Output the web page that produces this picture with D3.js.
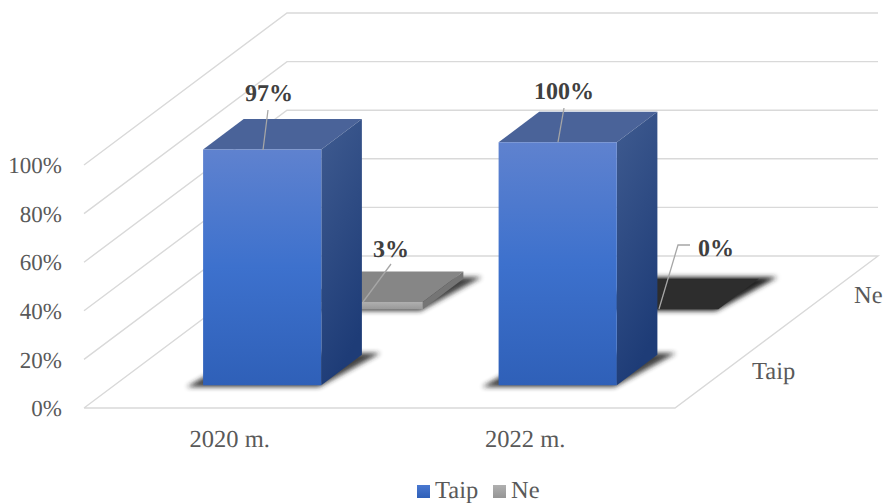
<!DOCTYPE html>
<html><head><meta charset="utf-8">
<script src="https://cdnjs.cloudflare.com/ajax/libs/d3/7.8.5/d3.min.js"></script>
<style>html,body{margin:0;padding:0;background:#fff}svg{display:block}text{font-family:"Liberation Serif",serif;text-rendering:geometricPrecision}</style>
</head><body><div id="c"></div>
<script>
const categories = ["2020 m.", "2022 m."];
const seriesNames = ["Taip", "Ne"];
const taipValues = [97, 100];
const neValues = [3, 0];
const valueTicks = [0, 20, 40, 60, 80, 100];
const dataLabels = {Taip: ["97%", "100%"], Ne: ["3%", "0%"]};

const W = 883, H = 503;
const svg = d3.select("#c").append("svg").attr("width", W).attr("height", H);
const defs = svg.append("defs");
function grad(id, stops, x2 = 0, y2 = 1) {
  const g = defs.append("linearGradient").attr("id", id).attr("x1", 0).attr("y1", 0).attr("x2", x2).attr("y2", y2);
  stops.forEach(([o, c]) => g.append("stop").attr("offset", o).attr("stop-color", c));
}
grad("blueFront", [[0, "#5f82cf"], [.5, "#3d71cd"], [1, "#2f60b8"]]);
grad("blueSide", [[0, "#3f5b90"], [1, "#1e3c77"]], .3, 1);
grad("greyFront", [[0, "#b0b0b0"], [1, "#999999"]]);
grad("legBlue", [[0, "#4a78d0"], [1, "#2f60b8"]]);
grad("legGrey", [[0, "#b0b0b0"], [1, "#959595"]]);
defs.append("filter").attr("id", "blur").attr("x", "-30%").attr("y", "-50%").attr("width", "160%").attr("height", "200%")
  .append("feGaussianBlur").attr("stdDeviation", 2.5);

// Projection: the floor runs along x, depth skews up and to the right
const depthDX = 203, depthDY = 152;
const x = d3.scaleBand().domain(categories).range([84, 675]).paddingInner(.6).paddingOuter(.3);
const z = d3.scaleBand().domain(seriesNames).range([0, 1]).paddingInner(.6).paddingOuter(.3);
const y = d3.scaleLinear().domain([0, 100]).range([408, 165]);
const P = (px, v, d) => [px + d * depthDX, y(v) - d * depthDY];
const poly = pts => pts.map(p => p.join(",")).join(" ");

// Grid
const grid = svg.append("g").attr("fill", "none").attr("stroke", "#d9d9d9").attr("stroke-width", 1.4);
valueTicks.forEach(t => {
  grid.append("polyline").attr("points", poly(
    t === 0 ? [P(84, t, 0), P(675, t, 0), P(675, t, 1), P(84, t, 1), P(84, t, 0)]
            : [P(84, t, 0), P(84, t, 1), P(675, t, 1)]));
});

// Axis text
const tick = svg.append("g").attr("font-size", 23).attr("fill", "#595959");
tick.selectAll("text").data(valueTicks).join("text")
  .attr("x", 62).attr("y", d => y(d)).attr("dy", ".36em").attr("text-anchor", "end").text(d => d + "%");
svg.append("g").attr("font-size", 24.5).attr("fill", "#595959").selectAll("text").data(categories).join("text")
  .attr("x", d => x(d) + x.bandwidth() / 2 - 2).attr("y", 447).attr("text-anchor", "middle").text(d => d);
const depthLabelPos = {Taip: [752, 379], Ne: [854, 303]};
svg.append("g").attr("font-size", 24.5).attr("fill", "#595959").selectAll("text").data(seriesNames).join("text")
  .attr("x", d => depthLabelPos[d][0]).attr("y", d => depthLabelPos[d][1]).text(d => d);

// Bars
function bar(cat, s, v) {
  const x0 = x(cat), x1 = x0 + x.bandwidth(), z0 = z(s), z1 = z0 + z.bandwidth();
  const g = svg.append("g");
  const blue = s === "Taip";
  g.append("polygon").attr("filter", "url(#blur)").attr("fill", "#222").attr("opacity", v === 0 ? 1 : .85)
    .attr("points", poly([P(x0 - 14, 0, z0 - .012), P(x1, 0, z0 - .012), P(x1 + 16, 0, z1 + .012), P(x0, 0, z1 + .012)]));
  g.append("polygon").attr("fill", blue ? "#4a6399" : (v === 0 ? "#2d2d2d" : "#868686"))
    .attr("points", poly([P(x0, v, z0), P(x1, v, z0), P(x1, v, z1), P(x0, v, z1)]));
  if (v > 0) {
    g.append("polygon").attr("fill", blue ? "url(#blueSide)" : "#757575")
      .attr("points", poly([P(x1, v, z0), P(x1, v, z1), P(x1, 0, z1), P(x1, 0, z0)]));
    g.append("polygon").attr("fill", blue ? "url(#blueFront)" : "url(#greyFront)")
      .attr("points", poly([P(x0, v, z0), P(x1, v, z0), P(x1, 0, z0), P(x0, 0, z0)]));
  }
}
categories.forEach((c, i) => bar(c, "Ne", neValues[i]));
categories.forEach((c, i) => bar(c, "Taip", taipValues[i]));

// Leaders and data labels
const labelLayout = [
  {t: dataLabels.Taip[0], x: 269, y: 101, line: [[268, 110], [263, 150]]},
  {t: dataLabels.Ne[0], x: 391, y: 257, line: [[391, 264], [363, 302]]},
  {t: dataLabels.Taip[1], x: 564, y: 99, line: [[564, 108], [558, 142]]},
  {t: dataLabels.Ne[1], x: 716, y: 256, line: [[690, 245], [678, 245], [659, 309]]}
];
svg.append("g").attr("fill", "none").attr("stroke", "#a6a6a6").attr("stroke-width", 1.3)
  .selectAll("polyline").data(labelLayout).join("polyline").attr("points", d => poly(d.line));
svg.append("g").attr("font-size", 24).attr("font-weight", "bold").attr("fill", "#404040")
  .selectAll("text").data(labelLayout).join("text").attr("x", d => d.x).attr("y", d => d.y)
  .attr("text-anchor", "middle").text(d => d.t);

// Legend
const legend = svg.append("g").selectAll("g").data(seriesNames).join("g")
  .attr("transform", (d, i) => `translate(${[417, 493][i]},485)`);
legend.append("rect").attr("width", 13).attr("height", 13).attr("fill", (d, i) => i ? "url(#legGrey)" : "url(#legBlue)");
legend.append("text").attr("x", 18).attr("y", 13).attr("font-size", 24.5).attr("fill", "#595959").text(d => d);
</script></body></html>
